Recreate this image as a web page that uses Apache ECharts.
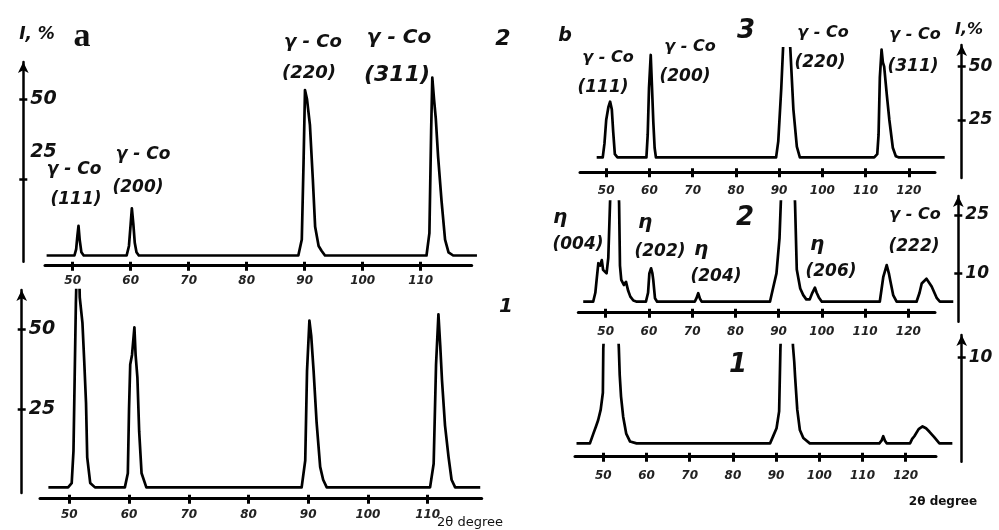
<!DOCTYPE html>
<html>
<head>
<meta charset="utf-8">
<script src="https://cdn.jsdelivr.net/npm/echarts@6/dist/echarts.min.js"></script>
<style>
html, body { margin: 0; padding: 0; background: #fff; }
#main { width: 999px; height: 530px; }
</style>
</head>
<body>
<div id="main"></div>
<script>
// [2theta, I %] pairs
var a2Pattern = [[45.5,1],[50.3,1],[50.6,3],[50.8,7],[51.0,10.3],[51.2,6],[51.5,2],[51.9,1],
    [59.3,1],[59.7,4],[60.0,11],[60.2,15.8],[60.45,11],[60.7,5],[61.0,2],[61.4,1],
    [88.9,1],[89.5,6],[89.8,30],[90.05,52.9],[90.4,50],[90.9,42],[91.4,25],[91.8,10],[92.4,4],[92.9,2.5],[93.5,1],
    [111.0,1],[111.5,8],[111.8,40],[112.0,56.8],[112.3,50],[112.6,44],[113.0,32],[113.6,18],[114.2,6],[114.8,2],[115.6,1],[119.7,1]];
var a1Pattern = [[46.5,0.6],[49.8,0.6],[50.4,1.9],[50.7,12],[50.9,35],[51.1,58],[51.45,85],[51.75,60],[52.2,52],[52.5,40],[52.8,27],[53.0,10],[53.5,2],[54.3,0.6],
    [59.3,0.6],[59.8,5],[60.0,25],[60.2,39],[60.5,42],[60.9,50.6],[61.1,42],[61.4,35],[61.7,18],[62.1,5],[62.9,0.6],
    [88.9,0.6],[89.5,9],[89.8,37],[90.2,52.7],[90.5,48],[90.9,37],[91.4,21],[92.0,7],[92.5,3],[93.1,0.6],
    [110.4,0.6],[111.0,8],[111.4,39],[111.8,54.7],[112.1,45],[112.4,34],[112.9,20],[113.5,10],[114.0,3],[114.6,0.6],[118.8,0.6]];
var b3Pattern = [[47.8,7.5],[49.2,7.5],[49.6,14],[50.0,25],[50.5,31],[50.9,33.6],[51.3,30],[51.6,20],[52.0,9],[52.6,7.5],
    [59.3,7.5],[59.6,18],[59.9,40],[60.3,55.5],[60.6,40],[60.9,24],[61.2,12],[61.5,7.5],
    [89.3,7.5],[89.8,15],[90.5,40],[91.6,90],[92.6,58],[93.3,30],[94.1,12.5],[94.8,7.5],
    [112.0,7.5],[112.7,9],[113.0,18],[113.3,45],[113.7,58],[114.0,52],[114.3,50],[114.9,37],[115.5,25],[116.3,12],[117.0,8],[117.6,7.5],[128.3,7.5]];
var b2Pattern = [[44.8,2.7],[47.1,2.7],[47.6,5],[47.9,8.3],[48.3,12.6],[48.7,12],[49.1,13.4],[49.4,10.9],[50.2,10],[50.6,14],[51.0,28],[52.0,60],[53.1,28],[53.3,12],[53.6,8.3],[54.2,7],[54.7,7.8],[55.2,5.5],[55.7,4],[56.4,3],[57.2,2.7],
    [59.3,2.7],[59.8,5],[60.1,10],[60.5,11.3],[60.8,10],[61.0,8.3],[61.4,3.6],[61.9,2.7],
    [70.6,2.7],[71.0,3.6],[71.4,4.9],[71.8,3.5],[72.2,2.7],
    [88.0,2.7],[88.8,6.6],[89.5,10],[90.2,19],[90.5,28],[92.2,70],[93.8,28],[94.2,11],[95.0,6.1],[95.7,4.4],[96.4,3.3],
    [97.2,3.3],[97.8,5],[98.4,6.3],[98.8,5],[99.3,3.8],[100.0,2.7],
    [113.4,2.7],[114.2,9],[115.0,12.1],[115.5,10],[115.8,8.3],[116.5,4.4],[117.3,2.7],
    [121.9,2.7],[122.6,5],[123.1,7.4],[124.2,8.6],[125.4,6.6],[126.6,3.6],[127.3,2.7],[130.4,2.7]];
var b1Pattern = [[43.8,0.3],[46.9,0.3],[47.7,1.4],[48.3,2.2],[48.8,2.9],[49.4,4.1],[49.9,6],[50.0,11],[51.9,30],[53.6,11],[53.8,8],[54.1,5.6],[54.6,3.3],[55.3,1.4],[56.2,0.5],[57.7,0.3],
    [88.6,0.3],[89.4,1.2],[90.1,2],[90.7,3.9],[91.0,11],[92.5,30],[93.9,11.3],[94.2,9.5],[94.4,7.8],[94.9,4.1],[95.5,1.8],[96.3,0.9],[97.8,0.3],
    [113.9,0.3],[114.4,0.6],[114.8,1.1],[115.2,0.6],[115.6,0.3],
    [121.0,0.3],[121.5,0.8],[122.0,1.1],[123.0,1.9],[123.9,2.2],[124.7,2.0],[125.5,1.6],[126.6,1.0],[127.8,0.3],[130.8,0.3]];

var xTicksA = [50, 60, 70, 80, 90, 100, 110];
var xTicksB = [50, 60, 70, 80, 90, 100, 110, 120];
var yTicksA2 = [25, 50];
var yTicksA1 = [25, 50];
var yTicksB3 = [25, 50];
var yTicksB2 = [10, 25];
var yTicksB1 = [10];

// pixel placement of each panel (x0 = px of 50 deg, kx px/deg, y0 = px of I=0, ky px/%)
var layout = {
    a2: {x0: 72.7, kx: 5.8, y0: 258.7, ky: 3.188, curve: [46.7, 476.7], clipTop: 57, axis: [45, 471.7], axisY: 265.7, gap: 9, yLine: 23.3, yTop: 62, yBottom: 261.7, side: 'left'},
    a1: {x0: 69.3, kx: 5.973, y0: 489.3, ky: 3.2, curve: [48.3, 480], clipTop: 290, axis: [40, 481.7], axisY: 498.7, gap: 10, yLine: 21.7, yTop: 290, yBottom: 493, side: 'left'},
    b3: {x0: 606.2, kx: 4.323, y0: 173.3, ky: 2.132, curve: [596.7, 945], clipTop: 48.3, axis: [580, 935], axisY: 172.3, gap: 13, yLine: 961.7, yTop: 45, yBottom: 178, side: 'right'},
    b2: {x0: 605.7, kx: 4.323, y0: 312.2, ky: 3.887, curve: [583.3, 953.3], clipTop: 201.7, axis: [578.3, 935], axisY: 312.7, gap: 13, yLine: 958.3, yTop: 196, yBottom: 321.7, side: 'right'},
    b1: {x0: 603.3, kx: 4.32, y0: 446, ky: 8.87, curve: [576.7, 955], clipTop: 345, axis: [575, 936], axisY: 456.7, gap: 13, yLine: 961.7, yTop: 335, yBottom: 461.7, side: 'right'}
};

var ink = '#111';
var grids = [], xAxes = [], yAxes = [], series = [];

function xv(p, px) { return 50 + (px - p.x0) / p.kx; }
function yv(p, py) { return (p.y0 - py) / p.ky; }
function addGrid(l, r, t, b) {
    grids.push({left: l, top: t, width: r - l, height: b - t, containLabel: false, outerBoundsMode: 'none'});
    return grids.length - 1;
}

function addPanel(p, data, xTicks, yTicks, xFont, yFont, yFmt) {
    // pattern curve
    var g = addGrid(p.curve[0], p.curve[1], p.clipTop, p.axisY);
    xAxes.push({gridIndex: g, type: 'value', show: false, min: xv(p, p.curve[0]), max: xv(p, p.curve[1])});
    yAxes.push({gridIndex: g, type: 'value', show: false, min: yv(p, p.axisY), max: yv(p, p.clipTop)});
    series.push({
        type: 'line', xAxisIndex: xAxes.length - 1, yAxisIndex: yAxes.length - 1,
        data: data, symbol: 'none', silent: true, animation: false,
        lineStyle: {color: '#000', width: 2.7, join: 'round'}
    });

    // 2theta axis
    g = addGrid(p.axis[0], p.axis[1], p.axisY - 10, p.axisY);
    var xmin = xv(p, p.axis[0]), xmax = xv(p, p.axis[1]);
    xAxes.push({
        gridIndex: g, type: 'value', min: xmin, max: xmax, position: 'bottom',
        axisLine: {show: true, onZero: false, lineStyle: {color: '#000', width: 3}},
        axisTick: {show: true, customValues: xTicks, length: 5, lineStyle: {color: '#000', width: 3}},
        axisLabel: Object.assign({customValues: xTicks, margin: p.gap}, xFont),
        splitLine: {show: false}
    });
    xAxes.push({
        gridIndex: g, type: 'value', min: xmin, max: xmax, position: 'bottom',
        axisLine: {show: false, onZero: false},
        axisTick: {show: true, inside: true, customValues: xTicks, length: 4, lineStyle: {color: '#000', width: 3}},
        axisLabel: {show: false}, splitLine: {show: false}
    });
    yAxes.push({gridIndex: g, type: 'value', show: false, min: 0, max: 1});

    // intensity axis
    var gl = p.side === 'left' ? p.yLine : p.yLine - 10;
    g = addGrid(gl, gl + 10, p.yTop, p.yBottom);
    xAxes.push({gridIndex: g, type: 'value', show: false, min: 0, max: 1});
    var ymin = yv(p, p.yBottom), ymax = yv(p, p.yTop);
    yAxes.push({
        gridIndex: g, type: 'value', position: p.side, min: ymin, max: ymax,
        axisLine: {show: true, onZero: false, symbol: ['none', 'arrow'], symbolSize: [8, 11], lineStyle: {color: '#000', width: 2.5}},
        axisTick: {show: true, customValues: yTicks, length: 4, lineStyle: {color: '#000', width: 2.5}},
        axisLabel: Object.assign({customValues: yTicks, inside: p.side === 'left', margin: 7, formatter: yFmt}, yFont),
        splitLine: {show: false}
    });
    yAxes.push({
        gridIndex: g, type: 'value', position: p.side, min: ymin, max: ymax,
        axisLine: {show: false, onZero: false},
        axisTick: {show: true, inside: true, customValues: yTicks, length: 4, lineStyle: {color: '#000', width: 2.5}},
        axisLabel: {show: false}, splitLine: {show: false}
    });
}

var tickFont = {fontFamily: 'DejaVu Sans', fontStyle: 'italic', fontWeight: 'bold', fontSize: 12, color: '#222'};
var yFontA = {fontFamily: 'DejaVu Sans', fontStyle: 'italic', fontWeight: 'bold', fontSize: 19, color: ink,
    rich: {
        n: {fontFamily: 'DejaVu Sans', fontStyle: 'italic', fontWeight: 'bold', fontSize: 19, color: ink},
        up: {fontFamily: 'DejaVu Sans', fontStyle: 'italic', fontWeight: 'bold', fontSize: 19, color: ink, padding: [0, 0, 54, 0]}
    }};
var yFontB = {fontFamily: 'DejaVu Sans', fontStyle: 'italic', fontWeight: 'bold', fontSize: 17, color: ink};

addPanel(layout.a2, a2Pattern, xTicksA, yTicksA2, tickFont, yFontA, function (v) { return v === 25 ? '{up|25}' : '{n|' + v + '}'; });
addPanel(layout.a1, a1Pattern, xTicksA, yTicksA1, tickFont, yFontA, function (v) { return '{n|' + v + '}'; });
addPanel(layout.b3, b3Pattern, xTicksB, yTicksB3, tickFont, yFontB, '{value}');
addPanel(layout.b2, b2Pattern, xTicksB, yTicksB2, tickFont, yFontB, '{value}');
addPanel(layout.b1, b1Pattern, xTicksB, yTicksB1, tickFont, yFontB, '{value}');

// panel captions and reflection labels: text, x, y, size, [weight, style, family]
var notes = [
    ['I, %', 37, 35, 17],
    ['a', 82, 37, 34, 'bold', 'normal', 'Liberation Serif'],
    ['2', 503, 39, 22],
    ['γ - Co', 313, 42, 18],
    ['(220)', 309, 73, 18],
    ['γ - Co', 399, 38, 20],
    ['(311)', 397, 75, 22],
    ['γ - Co', 74, 170, 17],
    ['(111)', 76, 200, 17],
    ['γ - Co', 143, 155, 17],
    ['(200)', 138, 188, 17],
    ['1', 506, 307, 20],
    ['2θ degree', 470, 523, 13, 'normal', 'normal'],
    ['b', 565, 36, 19],
    ['3', 746, 31, 26],
    ['γ - Co', 608, 58, 16],
    ['(111)', 603, 88, 17],
    ['γ - Co', 690, 47, 16],
    ['(200)', 685, 77, 17],
    ['γ - Co', 823, 33, 16],
    ['(220)', 820, 63, 17],
    ['γ - Co', 915, 35, 16],
    ['(311)', 913, 67, 17],
    ['I,%', 969, 30, 16],
    ['η', 560, 218, 20],
    ['(004)', 578, 245, 17],
    ['η', 645, 223, 20],
    ['(202)', 660, 252, 17],
    ['2', 745, 218, 26],
    ['η', 701, 250, 20],
    ['(204)', 716, 277, 17],
    ['η', 817, 245, 20],
    ['(206)', 831, 272, 17],
    ['γ - Co', 915, 215, 16],
    ['(222)', 914, 247, 17],
    ['1', 738, 365, 26],
    ['2θ degree', 943, 502, 12, 'bold', 'normal']
];

var graphic = notes.map(function (n) {
    return {
        type: 'text', x: n[1], y: n[2], silent: true,
        style: {
            text: n[0], fill: ink, align: 'center', verticalAlign: 'middle',
            fontSize: n[3], fontWeight: n[4] || 'bold', fontStyle: n[5] || 'italic',
            fontFamily: n[6] || 'DejaVu Sans'
        }
    };
});

var chart = echarts.init(document.getElementById('main'));
chart.setOption({
    backgroundColor: '#fff',
    animation: false,
    grid: grids,
    xAxis: xAxes,
    yAxis: yAxes,
    series: series,
    graphic: graphic
});
</script>
</body>
</html>
